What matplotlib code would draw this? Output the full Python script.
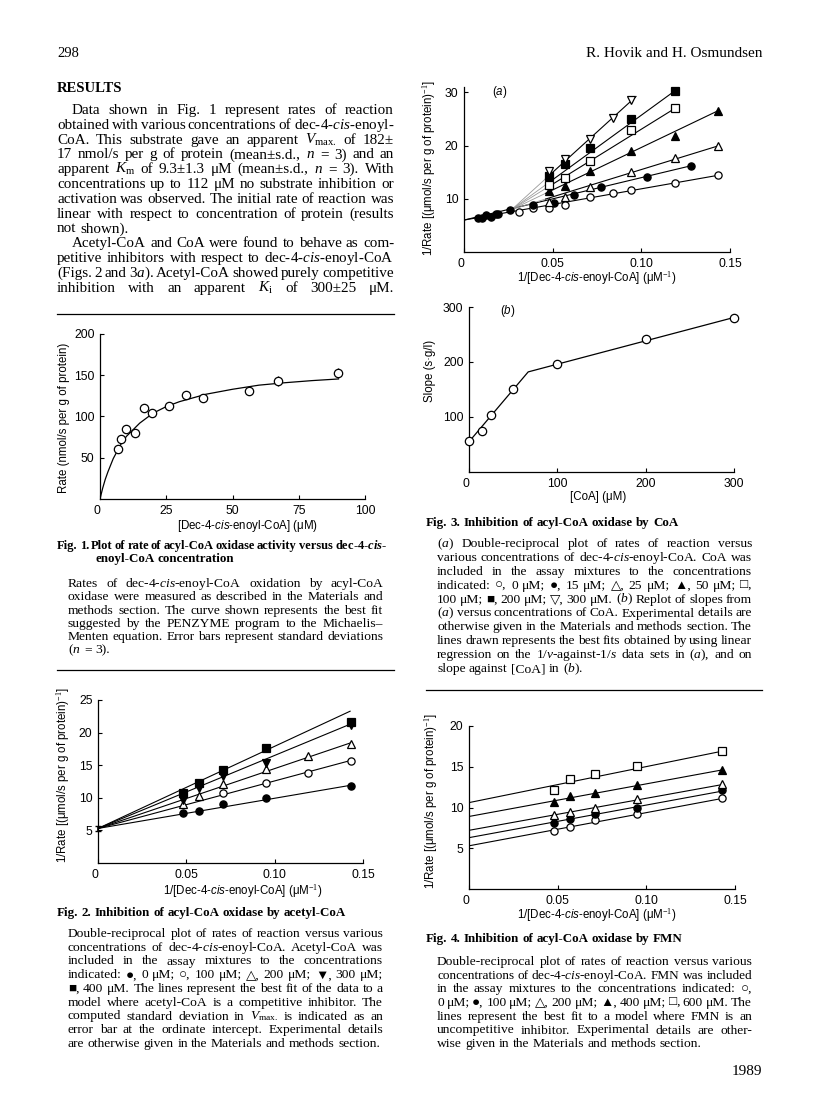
import numpy as np
import matplotlib
matplotlib.use("Agg")
import matplotlib.pyplot as plt
from matplotlib.lines import Line2D

nan = np.nan

# ---------------------------------------------------------------------------
# Fig. 1  rate vs [dec-4-cis-enoyl-CoA]
# ---------------------------------------------------------------------------
F1_S        = [6.7, 7.9, 9.9, 13.1, 16.5, 19.6, 26.0, 32.6, 39.0, 56.1, 67.2, 89.7]
F1_RATE     = [61, 73, 85, 80, 110, 104, 113, 126, 122, 131, 143, 153]
F1_ERR      = [0, 0, 0, 0, 0, 0, 0, 5, 5, 5, 6, 6]
F1_FIT_S    = [0, 1, 2, 3, 5, 8, 10, 15, 20, 25, 30, 40, 50, 60, 70, 80, 90]
F1_FIT_RATE = [0, 13, 24, 33, 49, 67, 76, 92, 104, 112, 118, 127, 133, 138, 141, 143.5, 145.5]

# ---------------------------------------------------------------------------
# Fig. 2  acetyl-CoA (0, 100, 200, 300, 400 uM)
# ---------------------------------------------------------------------------
F2_X     = [0.048, 0.057, 0.071, 0.095, 0.119, 0.143]
F2_Y_0   = [7.7, 8.0, 9.1, 9.9, nan, 11.8]
F2_Y_100 = [nan, nan, 10.8, 12.3, 13.8, 15.6]
F2_Y_200 = [9.1, 10.3, 12.1, 14.4, 16.4, 18.3]
F2_Y_300 = [9.7, 11.5, 13.3, 15.4, nan, 21.2]
F2_Y_400 = [10.7, 12.2, 14.3, 17.6, nan, 21.6]
F2_INTERCEPT    = 5.3
F2_INTERCEPT_SD = 0.4
F2_SLOPES       = [46.3, 72.9, 91.8, 112.0, 126.0]
F2_FIT_XMAX     = 0.1427

# ---------------------------------------------------------------------------
# Fig. 3a  CoA (0, 15, 25, 50, 100, 200, 300 uM)
# ---------------------------------------------------------------------------
F3A_X_0   = [0.031, 0.039, 0.048, 0.057, 0.071, 0.084, 0.094, 0.119, 0.143]
F3A_Y_0   = [7.5, 8.3, 8.3, 8.9, 10.4, 11.0, 11.6, 12.9, 14.4]
F3A_X_15  = [0.0079, 0.0104, 0.0126, 0.0154, 0.0179, 0.0192, 0.0258, 0.039, 0.051, 0.062, 0.077, 0.103, 0.128]
F3A_Y_15  = [6.4, 6.4, 7.0, 6.6, 7.1, 7.2, 7.8, 8.8, 9.3, 10.7, 12.2, 14.1, 16.2]
F3A_X_25  = [0.048, 0.057, 0.071, 0.094, 0.119, 0.143]
F3A_Y_25  = [9.4, 10.4, 12.2, 15.1, 17.6, 19.9]
F3A_X_50  = [0.048, 0.057, 0.071, 0.094, 0.119, 0.143]
F3A_Y_50  = [11.5, 12.4, 15.3, 18.9, 21.8, 26.5]
F3A_X_100 = [0.048, 0.057, 0.071, 0.094, 0.119]
F3A_Y_100 = [12.6, 13.9, 17.1, 23.0, 27.0]
F3A_X_200 = [0.048, 0.057, 0.071, 0.094, 0.119]
F3A_Y_200 = [14.3, 16.5, 19.6, 25.0, 30.3]
F3A_X_300 = [0.048, 0.057, 0.071, 0.084, 0.094]
F3A_Y_300 = [15.2, 17.4, 21.2, 25.1, 28.6]
F3A_FIT_INT   = [6.0, 6.0, 5.23, 3.69, 2.42, 1.46, -0.18]
F3A_FIT_SLOPE = [58.7, 79.7, 102.6, 159.5, 206.5, 242.4, 303.0]
F3A_FIT_X0    = [0, 0, 0.027, 0.027, 0.027, 0.027, 0.027]
F3A_FIT_X1    = [0.143, 0.128, 0.143, 0.143, 0.119, 0.119, 0.097]

# ---------------------------------------------------------------------------
# Fig. 3b  replot of slopes
# ---------------------------------------------------------------------------
F3B_COA       = [0, 15, 25, 50, 100, 200, 300]
F3B_SLOPE     = [57, 75, 103, 151, 197, 242, 280]
F3B_FIT_COA   = [0, 67, 300]
F3B_FIT_SLOPE = [55, 182, 281]

# ---------------------------------------------------------------------------
# Fig. 4  FMN (0, 100, 200, 400, 600 uM)
# ---------------------------------------------------------------------------
F4_X     = [0.048, 0.057, 0.071, 0.095, 0.1425]
F4_Y_0   = [7.1, 7.6, 8.5, 9.2, 11.2]
F4_Y_100 = [8.1, 8.6, 9.2, 10.0, 12.1]
F4_Y_200 = [9.1, 9.5, 10.0, 11.0, 12.9]
F4_Y_400 = [10.7, 11.4, 11.8, 12.8, 14.6]
F4_Y_600 = [12.1, 13.5, 14.1, 15.1, 16.9]
F4_FIT_INT   = [5.3, 6.3, 7.2, 8.9, 10.6]
F4_FIT_SLOPE = [40.7, 40.0, 39.3, 40.0, 44.2]
F4_FIT_XMAX  = 0.1425

# ---------------------------------------------------------------------------
# page text
# ---------------------------------------------------------------------------
RESULTS_P1 = [
    "Data shown in Fig. 1 represent rates of reaction",
    r"obtained with various concentrations of dec-4-$\mathit{cis}$-enoyl-",
    r"CoA. This substrate gave an apparent $V_{\mathrm{max.}}$ of 182±",
    r"17 nmol/s per g of protein (mean±s.d., $n$ = 3) and an",
    r"apparent $K_{\mathrm{m}}$ of 9.3±1.3 μM (mean±s.d., $n$ = 3). With",
    "concentrations up to 112 μM no substrate inhibition or",
    "activation was observed. The initial rate of reaction was",
    "linear with respect to concentration of protein (results",
    "not shown).",
]
RESULTS_P2 = [
    "Acetyl-CoA and CoA were found to behave as com-",
    r"petitive inhibitors with respect to dec-4-$\mathit{cis}$-enoyl-CoA",
    r"(Figs. 2 and 3$\mathit{a}$). Acetyl-CoA showed purely competitive",
    r"inhibition with an apparent $K_{\mathrm{i}}$ of 300±25 μM.",
]
CAP1_HEAD = [r"Fig. 1. Plot of rate of acyl-CoA oxidase activity versus dec-4-$\mathbfit{cis}$-",
             "enoyl-CoA concentration"]
CAP1 = [
    r"Rates of dec-4-$\mathit{cis}$-enoyl-CoA oxidation by acyl-CoA",
    "oxidase were measured as described in the Materials and",
    "methods section. The curve shown represents the best fit",
    "suggested by the PENZYME program to the Michaelis–",
    "Menten equation. Error bars represent standard deviations",
    r"($n$ = 3).",
]
CAP2_HEAD = "Fig. 2. Inhibition of acyl-CoA oxidase by acetyl-CoA"
CAP2 = [
    "Double-reciprocal plot of rates of reaction versus various",
    r"concentrations of dec-4-$\mathit{cis}$-enoyl-CoA. Acetyl-CoA was",
    "included in the assay mixtures to the concentrations",
    "indicated: ●, 0 μM; ○, 100 μM; △, 200 μM; ▼, 300 μM;",
    "■, 400 μM. The lines represent the best fit of the data to a",
    "model where acetyl-CoA is a competitive inhibitor. The",
    r"computed standard deviation in $V_{\mathrm{max.}}$ is indicated as an",
    "error bar at the ordinate intercept. Experimental details",
    "are otherwise given in the Materials and methods section.",
]
CAP3_HEAD = "Fig. 3. Inhibition of acyl-CoA oxidase by CoA"
CAP3 = [
    r"($\mathit{a}$) Double-reciprocal plot of rates of reaction versus",
    r"various concentrations of dec-4-$\mathit{cis}$-enoyl-CoA. CoA was",
    "included in the assay mixtures to the concentrations",
    "indicated: ○, 0 μM; ●, 15 μM; △, 25 μM; ▲, 50 μM; □,",
    r"100 μM; ■, 200 μM; ▽, 300 μM. ($\mathit{b}$) Replot of slopes from",
    r"($\mathit{a}$) versus concentrations of CoA. Experimental details are",
    "otherwise given in the Materials and methods section. The",
    "lines drawn represents the best fits obtained by using linear",
    r"regression on the 1/$v$-against-1/$s$ data sets in ($\mathit{a}$), and on",
    r"slope against [CoA] in ($\mathit{b}$).",
]
CAP4_HEAD = "Fig. 4. Inhibition of acyl-CoA oxidase by FMN"
CAP4 = [
    "Double-reciprocal plot of rates of reaction versus various",
    r"concentrations of dec-4-$\mathit{cis}$-enoyl-CoA. FMN was included",
    "in the assay mixtures to the concentrations indicated: ○,",
    "0 μM; ●, 100 μM; △, 200 μM; ▲, 400 μM; □, 600 μM. The",
    "lines represent the best fit to a model where FMN is an",
    "uncompetitive inhibitor. Experimental details are other-",
    "wise given in the Materials and methods section.",
]

# ---------------------------------------------------------------------------
# set-up
# ---------------------------------------------------------------------------
SERIF = ["Liberation Serif", "DejaVu Serif"]
SANS  = ["Liberation Sans", "DejaVu Sans"]
plt.rcParams.update({
    "font.family": SANS,
    "mathtext.fontset": "custom",
    "mathtext.rm": "Liberation Serif",
    "mathtext.it": "Liberation Serif:italic",
    "mathtext.bf": "Liberation Serif:bold",
    "mathtext.bfit": "Liberation Serif:italic:bold",
    "mathtext.sf": "Liberation Sans",
    "mathtext.cal": "Liberation Sans:italic",
    "axes.linewidth": 0.9,
})

W, H = 816, 1097
fig = plt.figure(figsize=(W / 100, H / 100), dpi=100)
fig.patch.set_facecolor("white")
R = fig.canvas.get_renderer()


def fx(x):
    return x / W


def fy(y):
    return 1 - y / H


def text_line(s, x0, x1, y, size, weight="normal", justify=True):
    words = s.split(" ")
    while True:
        arts = [fig.text(fx(x0), fy(y), w, fontsize=size, fontweight=weight,
                         family=SERIF, va="baseline", ha="left") for w in words]
        widths = [a.get_window_extent(R).width for a in arts]
        gap = size * 0.25 * 100 / 72
        if justify and len(words) > 1:
            want = (x1 - x0 - sum(widths)) / (len(words) - 1)
            if want < 0.6 * gap:          # too tight: shrink the line a little
                for a in arts:
                    a.remove()
                size *= 0.98
                continue
            gap = want
        break
    x = x0
    for a, w in zip(arts, widths):
        a.set_x(fx(x))
        x += w + gap


def paragraph(lines, x0, x1, y0, dy, size, indent=0, weight="normal", last_justified=False):
    for i, s in enumerate(lines):
        last = i == len(lines) - 1
        text_line(s, x0 + (indent if i == 0 else 0), x1, y0 + i * dy, size, weight,
                  justify=(not last) or last_justified)


def rule(x0, x1, y):
    fig.add_artist(Line2D([fx(x0), fx(x1)], [fy(y), fy(y)], transform=fig.transFigure,
                          color="k", lw=0.9))


def panel(l, r, t, b, xlim, ylim, xticks, xlabels, yticks):
    ax = fig.add_axes([fx(l), fy(b), (r - l) / W, (b - t) / H])
    ax.set_xlim(*xlim)
    ax.set_ylim(*ylim)
    ax.patch.set_alpha(0)
    for sp in ("top", "right"):
        ax.spines[sp].set_visible(False)
    ax.set_xticks(xticks, xlabels)
    ax.set_yticks(yticks, [f"{v:g}" for v in yticks])
    ax.tick_params(direction="in", length=3, width=0.8, labelsize=8.7, pad=4)
    ax.get_xticklabels()[0].set_ha("right")
    return ax


def label(x, y, s, rot=0, size=8.3):
    fig.text(fx(x), fy(y), s, fontsize=size, family=SANS, rotation=rot,
             ha="center", va="center")


MK = dict(ms=5.2, mew=0.9, mec="k", ls="none", zorder=3, clip_on=False)
OPEN, FILL = "white", "black"

# ---------------------------------------------------------------------------
# Fig. 1
# ---------------------------------------------------------------------------
ax1 = panel(100, 365, 334, 499, (0, 100), (0, 200),
            [0, 25, 50, 75, 100], ["0", "25", "50", "75", "100"], [50, 100, 150, 200])
ax1.plot(F1_FIT_S, F1_FIT_RATE, color="k", lw=0.9)
ax1.errorbar(F1_S, F1_RATE, yerr=F1_ERR, fmt="none", ecolor="k", elinewidth=0.9, capsize=0)
ax1.plot(F1_S, F1_RATE, marker="o", mfc=OPEN, **{**MK, "ms": 6})
label(64, 418, "Rate (nmol/s per g of protein)", rot=90)
label(247, 526, r"[Dec-4-$\mathcal{cis}$-enoyl-CoA] (μM)")

# ---------------------------------------------------------------------------
# Fig. 2
# ---------------------------------------------------------------------------
XT = [0, 0.05, 0.10, 0.15]
XTL = ["0", "0.05", "0.10", "0.15"]
ax2 = panel(98, 363, 700, 863, (0, 0.15), (0, 25), XT, XTL, [5, 10, 15, 20, 25])
xf = np.array([0, F2_FIT_XMAX])
for slope in F2_SLOPES:
    ax2.plot(xf, F2_INTERCEPT + slope * xf, color="k", lw=0.8)
ax2.errorbar([0], [F2_INTERCEPT], yerr=[F2_INTERCEPT_SD], fmt="none", ecolor="k",
             elinewidth=1.2, capsize=2, clip_on=False)
for ys, m, fc in [(F2_Y_0, "o", FILL), (F2_Y_100, "o", OPEN), (F2_Y_200, "^", OPEN),
                  (F2_Y_300, "v", FILL), (F2_Y_400, "s", FILL)]:
    ax2.plot(F2_X, ys, marker=m, mfc=fc, **MK)
label(63, 775, r"1/Rate [(μmol/s per g of protein)$^{-1}$]", rot=90)
label(243, 891, r"1/[Dec-4-$\mathcal{cis}$-enoyl-CoA] (μM$^{-1}$)")

# ---------------------------------------------------------------------------
# Fig. 3a
# ---------------------------------------------------------------------------
ax3 = panel(464, 730, 87, 252, (0, 0.15), (0, 31), XT, XTL, [10, 20, 30])
for b0, k, x0, x1 in zip(F3A_FIT_INT, F3A_FIT_SLOPE, F3A_FIT_X0, F3A_FIT_X1):
    if x0 > 0:
        xs = np.array([x0, 0.046])
        ax3.plot(xs, b0 + k * xs, color="0.6", lw=0.6)
        x0 = 0.046
    xs = np.array([x0, x1])
    ax3.plot(xs, b0 + k * xs, color="k", lw=0.8)
for xs, ys, m, fc in [(F3A_X_0, F3A_Y_0, "o", OPEN), (F3A_X_15, F3A_Y_15, "o", FILL),
                      (F3A_X_25, F3A_Y_25, "^", OPEN), (F3A_X_50, F3A_Y_50, "^", FILL),
                      (F3A_X_100, F3A_Y_100, "s", OPEN), (F3A_X_200, F3A_Y_200, "s", FILL),
                      (F3A_X_300, F3A_Y_300, "v", OPEN)]:
    ax3.plot(xs, ys, marker=m, mfc=fc, **MK)
ax3.text(0.020, 30, r"($\mathcal{a}$)", fontsize=8.3, ha="center", va="center")
label(429, 168, r"1/Rate [(μmol/s per g of protein)$^{-1}$]", rot=90)
label(597, 278, r"1/[Dec-4-$\mathcal{cis}$-enoyl-CoA] (μM$^{-1}$)")

# ---------------------------------------------------------------------------
# Fig. 3b
# ---------------------------------------------------------------------------
ax4 = panel(469, 734, 307, 472, (0, 300), (0, 300),
            [0, 100, 200, 300], ["0", "100", "200", "300"], [100, 200, 300])
ax4.plot(F3B_FIT_COA, F3B_FIT_SLOPE, color="k", lw=0.9)
ax4.plot(F3B_COA, F3B_SLOPE, marker="o", mfc=OPEN, **{**MK, "ms": 6})
ax4.text(44, 293, r"($\mathcal{b}$)", fontsize=8.3, ha="center", va="center")
label(430, 371, "Slope (s·g/l)", rot=90)
label(598, 497, "[CoA] (μM)")

# ---------------------------------------------------------------------------
# Fig. 4
# ---------------------------------------------------------------------------
ax5 = panel(469, 735, 726, 889, (0, 0.15), (0, 20), XT, XTL, [5, 10, 15, 20])
xf = np.array([0, F4_FIT_XMAX])
for b0, k in zip(F4_FIT_INT, F4_FIT_SLOPE):
    ax5.plot(xf, b0 + k * xf, color="k", lw=0.8)
for ys, m, fc in [(F4_Y_0, "o", OPEN), (F4_Y_100, "o", FILL), (F4_Y_200, "^", OPEN),
                  (F4_Y_400, "^", FILL), (F4_Y_600, "s", OPEN)]:
    ax5.plot(F4_X, ys, marker=m, mfc=fc, **MK)
label(431, 801, r"1/Rate [(μmol/s per g of protein)$^{-1}$]", rot=90)
label(597, 915, r"1/[Dec-4-$\mathcal{cis}$-enoyl-CoA] (μM$^{-1}$)")

# ---------------------------------------------------------------------------
# page text
# ---------------------------------------------------------------------------
fig.text(fx(57), fy(57), "298", fontsize=10.5, family=SERIF, va="baseline")
fig.text(fx(762), fy(57), "R. Hovik and H. Osmundsen", fontsize=11, family=SERIF,
         va="baseline", ha="right")
fig.text(fx(57), fy(92), "RESULTS", fontsize=10.5, family=SERIF, weight="bold", va="baseline")
paragraph(RESULTS_P1, 57, 394, 114, 14.8, 10.9, indent=15)
paragraph(RESULTS_P2, 57, 394, 114 + 9 * 14.8, 14.8, 10.9, indent=15, last_justified=True)
rule(57, 394, 314)

text_line(CAP1_HEAD[0], 57, 387, 549, 9.6, weight="bold")
text_line(CAP1_HEAD[1], 95, 387, 562, 9.4, weight="bold", justify=False)
paragraph(CAP1, 68, 383, 587, 13.3, 9.7)
rule(57, 394, 670)

text_line(CAP2_HEAD, 57, 394, 916, 9.4, weight="bold", justify=False)
paragraph(CAP2, 68, 383, 937, 13.75, 9.7)

text_line(CAP3_HEAD, 426, 762, 526, 9.4, weight="bold", justify=False)
paragraph(CAP3, 437, 752, 547, 13.9, 9.7)
rule(426, 762, 690)

text_line(CAP4_HEAD, 426, 762, 942, 9.4, weight="bold", justify=False)
paragraph(CAP4, 437, 752, 965, 13.7, 9.7)
fig.text(fx(762), fy(1075), "1989", fontsize=11, family=SERIF, va="baseline", ha="right")

fig.savefig("out.png", dpi=100, facecolor="white")
